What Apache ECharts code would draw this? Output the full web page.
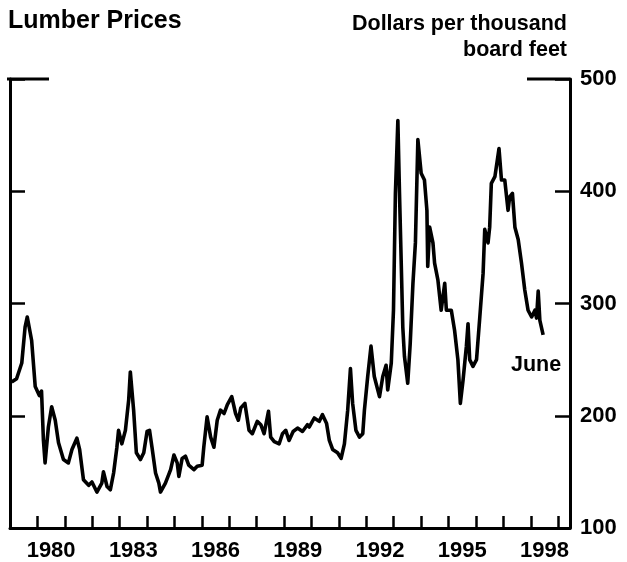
<!DOCTYPE html>
<html>
<head>
<meta charset="utf-8">
<script src="https://cdn.jsdelivr.net/npm/echarts@6/dist/echarts.min.js"></script>
<style>
  html, body { margin: 0; padding: 0; background: #fff; }
  #chart { width: 627px; height: 562px; }
</style>
</head>
<body>
<div id="chart"></div>
<script>
// decimal year of each point
const years = [
  1979.06, 1979.24, 1979.43, 1979.55, 1979.63, 1979.79, 1979.92, 1980.07, 1980.15, 1980.22,
  1980.28, 1980.40, 1980.52, 1980.65, 1980.77, 1980.95, 1981.13, 1981.26, 1981.44, 1981.54,
  1981.68, 1981.87, 1981.99, 1982.17, 1982.35, 1982.41, 1982.54, 1982.66, 1982.78, 1982.90,
  1982.96, 1983.08, 1983.21, 1983.33, 1983.39, 1983.51, 1983.61, 1983.76, 1983.88, 1984.00,
  1984.09, 1984.18, 1984.31, 1984.43, 1984.49, 1984.67, 1984.86, 1984.98, 1985.10, 1985.16,
  1985.28, 1985.40, 1985.52, 1985.71, 1985.83, 1986.01, 1986.07, 1986.19, 1986.32, 1986.44,
  1986.56, 1986.68, 1986.81, 1986.93, 1987.09, 1987.23, 1987.33, 1987.42, 1987.57, 1987.72,
  1987.84, 1988.02, 1988.15, 1988.27, 1988.43, 1988.51, 1988.64, 1988.82, 1988.94, 1989.06,
  1989.18, 1989.33, 1989.49, 1989.67, 1989.85, 1989.92, 1990.10, 1990.28, 1990.40, 1990.55,
  1990.65, 1990.77, 1990.95, 1991.08, 1991.20, 1991.32, 1991.42, 1991.50, 1991.62, 1991.75,
  1991.87, 1991.93, 1992.05, 1992.17, 1992.29, 1992.48, 1992.60, 1992.72, 1992.78, 1992.91,
  1992.99, 1993.06, 1993.15, 1993.21, 1993.27, 1993.33, 1993.39, 1993.51, 1993.60, 1993.70,
  1993.79, 1993.88, 1994.00, 1994.12, 1994.21, 1994.24, 1994.31, 1994.43, 1994.49, 1994.61,
  1994.73, 1994.86, 1994.92, 1995.10, 1995.22, 1995.34, 1995.43, 1995.53, 1995.65, 1995.71,
  1995.77, 1995.89, 1996.02, 1996.14, 1996.26, 1996.32, 1996.44, 1996.50, 1996.56, 1996.69,
  1996.84, 1996.93, 1997.05, 1997.17, 1997.23, 1997.33, 1997.42, 1997.54, 1997.66, 1997.78,
  1997.90, 1998.03, 1998.15, 1998.21, 1998.27, 1998.33, 1998.45
]

// dollars per thousand board feet
const prices = [
  230, 233, 247, 279, 288, 267, 226, 218, 222, 178,
  158, 190, 208, 196, 176, 161, 158, 170, 180, 170,
  143, 138, 141, 132, 140, 150, 137, 134, 149, 172,
  187, 175, 187, 214, 239, 205, 167, 161, 167, 186,
  187, 172, 149, 140, 132, 140, 152, 165, 158, 146,
  162, 164, 156, 152, 155, 156, 172, 199, 181, 172,
  196, 205, 202, 210, 217, 202, 196, 207, 211, 187,
  184, 195, 192, 184, 204, 181, 177, 175, 184, 187,
  178, 186, 189, 186, 192, 190, 198, 195, 201, 193,
  178, 170, 167, 162, 175, 205, 242, 211, 187, 181,
  184, 205, 235, 262, 235, 217, 235, 245, 223, 247,
  294, 398, 463, 398, 339, 279, 253, 229, 264, 318,
  354, 446, 416, 410, 383, 333, 368, 354, 336, 321,
  294, 318, 294, 294, 276, 250, 211, 232, 262, 282,
  250, 244, 250, 288, 327, 366, 354, 368, 407, 413,
  438, 410, 410, 383, 395, 398, 368, 357, 336, 312,
  294, 288, 294, 287, 311, 285, 272
]

const tickYears = [1979, 1980, 1981, 1982, 1983, 1984, 1985, 1986, 1987, 1988,
  1989, 1990, 1991, 1992, 1993, 1994, 1995, 1996, 1997, 1998, 1999]
const labelYears = [1980, 1983, 1986, 1989, 1992, 1995, 1998]

const chart = echarts.init(document.getElementById('chart'))
const font = 'Liberation Sans, Arial, sans-serif'

const axisStyle = { color: '#000', width: 3 }

const option = {
  animation: false,
  backgroundColor: '#fff',
  grid: { left: 10, right: 57, top: 79, bottom: 34 },
  xAxis: {
    type: 'value',
    min: 1979,
    max: 1999.43,
    axisLine: { show: true, lineStyle: axisStyle },
    axisTick: {
      show: true,
      inside: true,
      length: 12,
      customValues: tickYears,
      lineStyle: { color: '#000', width: 2.5 }
    },
    axisLabel: {
      // labels sit in the middle of their year
      customValues: labelYears.map(y => y + 0.5),
      formatter: v => String(Math.floor(v)),
      color: '#000',
      fontFamily: font,
      fontWeight: 'bold',
      fontSize: 22,
      margin: 12
    },
    splitLine: { show: false }
  },
  yAxis: [
    {
      type: 'value',
      position: 'left',
      min: 100,
      max: 500,
      interval: 100,
      axisLine: { show: true, lineStyle: axisStyle },
      axisTick: { show: true, inside: true, length: 15, lineStyle: { color: '#000', width: 2.5 } },
      axisLabel: { show: false },
      splitLine: { show: false }
    },
    {
      type: 'value',
      position: 'right',
      min: 100,
      max: 500,
      interval: 100,
      axisLine: { show: true, lineStyle: axisStyle },
      axisTick: { show: true, inside: true, length: 15, lineStyle: { color: '#000', width: 2.5 } },
      axisLabel: { color: '#000', fontFamily: font, fontWeight: 'bold', fontSize: 22, margin: 10 },
      splitLine: { show: false }
    }
  ],
  series: [
    {
      name: 'Lumber Prices',
      type: 'line',
      yAxisIndex: 1,
      data: years.map((y, i) => [y, prices[i]]),
      showSymbol: false,
      lineStyle: { color: '#000', width: 3.6, join: 'round' }
    }
  ]
}

chart.setOption(option)

// 顶部的两段边框和文字
const topY = chart.convertToPixel({ yAxisIndex: 1 }, 500)
const leftX = chart.convertToPixel({ xAxisIndex: 0 }, 1979)
const rightX = chart.convertToPixel({ xAxisIndex: 0 }, 1999.43)
chart.setOption({
  graphic: [
    { type: 'line', shape: { x1: leftX - 3, y1: topY, x2: leftX + 39, y2: topY }, style: { stroke: '#000', lineWidth: 3 } },
    { type: 'line', shape: { x1: rightX - 43, y1: topY, x2: rightX, y2: topY }, style: { stroke: '#000', lineWidth: 3 } },
    { type: 'text', left: 8, top: 9, style: { text: 'Lumber Prices', font: 'bold 25px ' + font, fill: '#000' } },
    { type: 'text', right: 60, top: 13, style: { text: 'Dollars per thousand', font: 'bold 21.5px ' + font, fill: '#000' } },
    { type: 'text', right: 60, top: 39, style: { text: 'board feet', font: 'bold 21.5px ' + font, fill: '#000' } },
    { type: 'text', left: 511, top: 354, style: { text: 'June', font: 'bold 21.5px ' + font, fill: '#000' } }
  ]
})

window.addEventListener('resize', () => chart.resize())
</script>
</body>
</html>
